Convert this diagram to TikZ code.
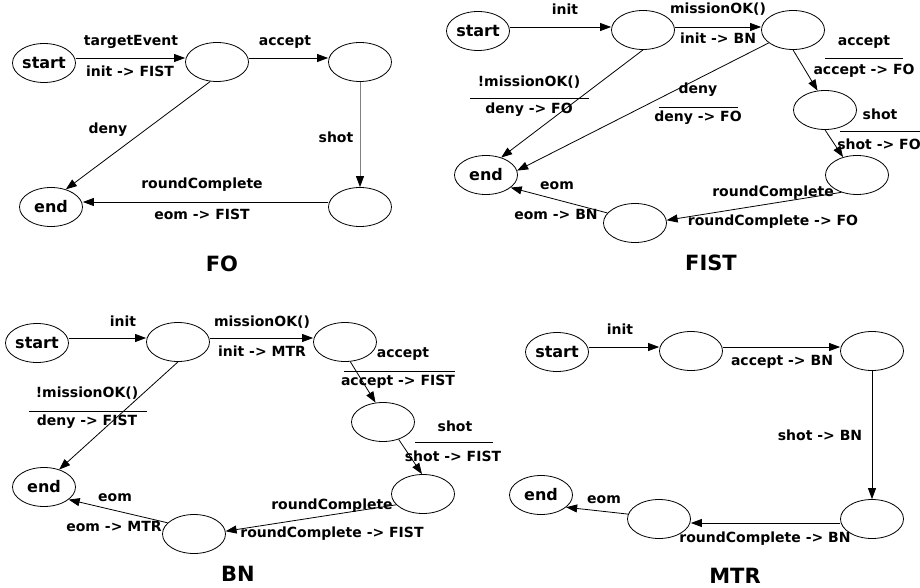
\documentclass[tikz,border=0pt]{standalone}
\usepackage{fontspec}
\setmainfont{DejaVu Sans}
\usetikzlibrary{arrows.meta,shapes.geometric}
\begin{document}
\begin{tikzpicture}[x=1pt,y=-1pt,
  st/.style={ellipse,draw,line width=0.8pt,minimum width=63pt,minimum height=39pt,inner sep=0pt,font=\fontsize{16}{18}\selectfont\bfseries},
  lab/.style={inner sep=0pt,font=\fontsize{14}{16}\selectfont\bfseries},
  ttl/.style={inner sep=0pt,font=\fontsize{21}{24}\selectfont\bfseries},
  arr/.style={line width=0.8pt,-{Triangle[length=11pt,width=8pt]}},
  grayarr/.style={line width=1pt,draw=black!50,-{Triangle[length=11pt,width=8pt,color=black]}},
  bar/.style={line width=0.7pt}]
\useasboundingbox (0,0) rectangle (920,588);
% ---------------- FO ----------------
\node[st] (fos) at (44,63) {start};
\node[st] (foa) at (217,62) {};
\node[st] (fob) at (360,62) {};
\node[st] (foc) at (360,207) {};
\node[st] (foe) at (51,207) {end};
\draw[arr] ([yshift=5pt]fos.east) -- ([yshift=4pt]foa.west);
\draw[arr] ([yshift=4pt]foa.east) -- ([yshift=4pt]fob.west);
\draw[grayarr] (fob.south) -- (foc.north);
\draw[arr] (foa.-109) -- (foe.50);
\draw[arr] ([yshift=5pt]foc.west) -- ([yshift=5pt]foe.east);
\node[lab] (fol1) at (131,42) {targetEvent};
\node[lab] (fol2) at (130,71) {init -> FIST};
\node[lab] (fol3) at (285,42) {accept};
\node[lab] (fol4) at (108,130) {deny};
\node[lab] (fol5) at (336,137) {shot};
\node[lab] (fol6) at (202,185) {roundComplete};
\node[lab] (fol7) at (202,214) {eom -> FIST};
\node[ttl] (fot) at (222,264) {FO};
% ---------------- FIST ----------------
\node[st] (fis) at (478,31) {start};
\node[st] (fia) at (643,30) {};
\node[st] (fib) at (793,30) {};
\node[st] (fic) at (825,110) {};
\node[st] (fid) at (857,175) {};
\node[st] (fif) at (635,223) {};
\node[st] (fie) at (486,175) {end};
\draw[arr] ([yshift=4pt]fis.east) -- ([yshift=3pt]fia.west);
\draw[arr] ([yshift=3pt]fia.east) -- ([yshift=3pt]fib.west);
\draw[arr] (fia.south) -- (fie.49);
\draw[arr] (fib.208) -- (fie.8);
\draw[arr] (fib.south) -- (fic.111);
\draw[arr] (fic.south) -- (fid.128);
\draw[arr] (fid.228) -- (fif.5);
\draw[arr] (fif.160) -- (fie.-27);
\node[lab] (fil1) at (565,9) {init};
\node[lab] (fil2) at (718,9) {missionOK()};
\node[lab] (fil3) at (718,38) {init -> BN};
\node[lab] (fil4) at (864,42) {accept};
\draw[bar] (825,58) -- (903,58);
\node[lab] (fil5) at (864,71) {accept -> FO};
\node[lab] (fil6) at (529,82) {!missionOK()};
\draw[bar] (470,98) -- (589,98);
\node[lab] (fil7) at (529,110) {deny -> FO};
\node[lab] (fil8) at (698,90) {deny};
\draw[bar] (659,107) -- (738,107);
\node[lab] (fil9) at (698,118) {deny -> FO};
\node[lab] (fil10) at (880,114) {shot};
\draw[bar] (840,131) -- (920,131);
\node[lab] (fil11) at (879,144) {shot -> FO};
\node[lab] (fil12) at (773,193) {roundComplete};
\node[lab] (fil13) at (773,222) {roundComplete -> FO};
\node[lab] (fil14) at (557,186) {eom};
\node[lab] (fil15) at (556,214) {eom -> BN};
\node[ttl] (fit) at (711,263) {FIST};
% ---------------- BN ----------------
\node[st] (bns) at (37,343) {start};
\node[st] (bna) at (178,342) {};
\node[st] (bnb) at (345,342) {};
\node[st] (bnc) at (383,422) {};
\node[st] (bnd) at (423,494) {};
\node[st] (bnf) at (194,534) {};
\node[st] (bne) at (44,487) {end};
\draw[arr] ([yshift=5pt]bns.east) -- ([yshift=4pt]bna.west);
\draw[arr] ([yshift=4pt]bna.east) -- ([yshift=4pt]bnb.west);
\draw[arr] (bna.south) -- (bne.49);
\draw[arr] (bnb.-75) -- (bnc.111);
\draw[arr] (bnc.-48) -- (bnd.93);
\draw[arr] (bnd.202) -- (bnf.5);
\draw[arr] (bnf.157) -- (bne.-27);
\node[lab] (bnl1) at (123,321) {init};
\node[lab] (bnl2) at (262,322) {missionOK()};
\node[lab] (bnl3) at (262,351) {init -> MTR};
\node[lab] (bnl4) at (403,354) {accept};
\draw[bar] (344,371) -- (455,371);
\node[lab] (bnl5) at (398,382) {accept -> FIST};
\node[lab] (bnl6) at (87,393) {!missionOK()};
\draw[bar] (29,411) -- (147,411);
\node[lab] (bnl7) at (87,422) {deny -> FIST};
\node[lab] (bnl8) at (455,426) {shot};
\draw[bar] (415,442) -- (493,442);
\node[lab] (bnl9) at (453,456) {shot -> FIST};
\node[lab] (bnl10) at (332,506) {roundComplete};
\node[lab] (bnl11) at (332,534) {roundComplete -> FIST};
\node[lab] (bnl12) at (115,498) {eom};
\node[lab] (bnl13) at (114,526) {eom -> MTR};
\node[ttl] (bnt) at (238,574) {BN};
% ---------------- MTR ----------------
\node[st] (mts) at (557,352) {start};
\node[st] (mta) at (691,351) {};
\node[st] (mtb) at (872,351) {};
\node[st] (mtc) at (872,519) {};
\node[st] (mtd) at (659,519) {};
\node[st] (mte) at (541,495) {end};
\draw[arr] ([yshift=5pt]mts.east) -- ([yshift=4pt]mta.west);
\draw[arr] ([yshift=4pt]mta.east) -- ([yshift=4pt]mtb.west);
\draw[arr] (mtb.south) -- (mtc.north);
\draw[arr] ([yshift=-4pt]mtc.west) -- ([yshift=-4pt]mtd.east);
\draw[arr] (mtd.171) -- (mte.-26);
\node[lab] (mtl1) at (620,329) {init};
\node[lab] (mtl2) at (782,362) {accept -> BN};
\node[lab] (mtl3) at (820,435) {shot -> BN};
\node[lab] (mtl4) at (604,500) {eom};
\node[lab] (mtl5) at (765,539) {roundComplete -> BN};
\node[ttl] (mtt) at (735,576) {MTR};
\end{tikzpicture}
\end{document}
